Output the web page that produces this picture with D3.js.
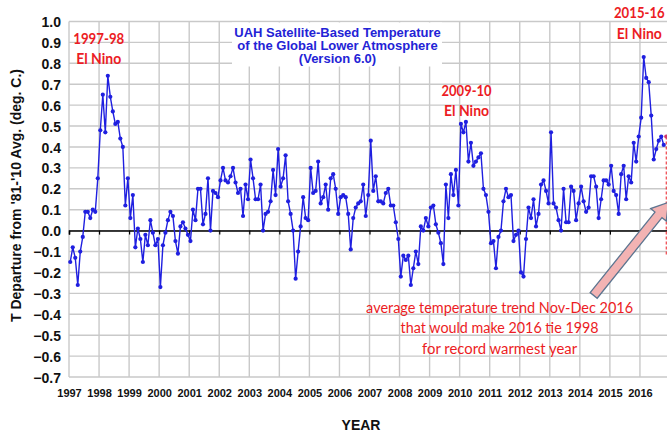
<!DOCTYPE html>
<html><head><meta charset="utf-8">
<script src="https://cdn.jsdelivr.net/npm/d3@7"></script>
<style>
html,body{margin:0;padding:0;background:#fff;}
svg{display:block;}
</style></head>
<body>
<svg id="chart" width="667" height="435"></svg>
<script>
// ---- data: UAH monthly anomalies (deg C), Jan 1997 .. Oct 2016 ----
const startYear = 1997;
const anomalies = [
  // 1997
  -0.15, -0.08, -0.13, -0.26, -0.10, -0.03, 0.09, 0.09, 0.06, 0.10, 0.09, 0.25,
  // 1998
  0.48, 0.65, 0.47, 0.74, 0.64, 0.57, 0.51, 0.52, 0.44, 0.40, 0.12, 0.25,
  // 1999
  0.06, 0.17, -0.08, 0.01, -0.04, -0.15, -0.02, -0.07, 0.05, -0.01, -0.07, -0.04,
  // 2000
  -0.27, -0.07, -0.01, 0.05, 0.09, 0.07, -0.05, -0.11, 0.02, 0.04, 0.01, -0.02,
  // 2001
  -0.05, 0.10, 0.05, 0.20, 0.20, 0.03, 0.08, 0.25, 0.00, 0.19, 0.18, 0.16,
  // 2002
  0.24, 0.30, 0.24, 0.23, 0.26, 0.30, 0.23, 0.18, 0.20, 0.07, 0.22, 0.15,
  // 2003
  0.34, 0.25, 0.15, 0.15, 0.22, 0.00, 0.08, 0.09, 0.14, 0.29, 0.17, 0.39,
  // 2004
  0.21, 0.25, 0.36, 0.14, 0.08, 0.00, -0.23, -0.10, 0.02, 0.16, 0.06, 0.05,
  // 2005
  0.30, 0.18, 0.19, 0.33, 0.13, 0.16, 0.22, 0.10, 0.25, 0.27, 0.20, 0.08,
  // 2006
  0.16, 0.17, 0.16, 0.08, -0.09, 0.06, 0.11, 0.13, 0.14, 0.22, 0.07, 0.17,
  // 2007
  0.43, 0.19, 0.26, 0.14, 0.14, 0.13, 0.18, 0.20, 0.12, 0.12, 0.04, -0.04,
  // 2008
  -0.22, -0.12, -0.14, -0.12, -0.26, -0.18, -0.10, -0.16, 0.02, 0.00, 0.06, 0.02,
  // 2009
  0.11, 0.12, 0.03, -0.01, -0.06, -0.16, 0.22, 0.06, 0.27, 0.17, 0.29, 0.12,
  // 2010
  0.51, 0.47, 0.52, 0.33, 0.42, 0.31, 0.33, 0.35, 0.37, 0.20, 0.17, 0.09,
  // 2011
  -0.06, -0.05, -0.18, -0.03, 0.00, 0.14, 0.20, 0.16, 0.17, -0.05, -0.02, 0.00,
  // 2012
  -0.20, -0.22, -0.04, 0.11, 0.06, 0.15, 0.02, 0.08, 0.22, 0.24, 0.19, 0.13,
  // 2013
  0.47, 0.13, 0.11, 0.05, 0.00, 0.20, 0.04, 0.04, 0.21, 0.19, 0.05, 0.13,
  // 2014
  0.21, 0.14, 0.09, 0.11, 0.26, 0.26, 0.21, 0.06, 0.15, 0.24, 0.24, 0.22,
  // 2015
  0.31, 0.19, 0.17, 0.08, 0.27, 0.31, 0.15, 0.26, 0.23, 0.42, 0.33, 0.45,
  // 2016
  0.54, 0.83, 0.73, 0.71, 0.55, 0.34, 0.39, 0.43, 0.45, 0.41
];
const yearTicks = d3.range(1997, 2017);     // labelled years
const yearGrid = d3.range(1997, 2018);      // vertical grid lines
const yTicks = d3.range(-7, 11).map(d => d / 10);
const titleLines = ["UAH Satellite-Based Temperature", "of the Global Lower Atmosphere", "(Version 6.0)"];
const elNinoLabels = [
  {lines: ["1997-98", "El Nino"], x: 1997.99, y: [0.893, 0.797]},
  {lines: ["2009-10", "El Nino"], x: 2010.23, y: [0.645, 0.546]},
  {lines: ["2015-16", "El Nino"], x: 2015.98, y: [1.018, 0.915]}
];
const trendNote = ["average temperature trend Nov-Dec 2016", "that would make 2016 tie 1998", "for record warmest year"];
// projected Nov marker (start of the dashed red line)
const projStart = {t: 2016 + 10.5 / 12, v: 0.45};
const projEnd = {t: 2016 + 10.5 / 12, v: -0.12};
const arrowFrom = {t: 2014.46, v: -0.31};
const arrowTo = {t: 2016.95, v: 0.135};

// ---- layout ----
const svg = d3.select("#chart");
const W = 667, H = 435;
const x = d3.scaleLinear().domain([1997, 2017]).range([69, 670]);
const y = d3.scaleLinear().domain([-0.7, 1.0]).range([377, 21.5]);
const gridColor = "#c9c9c9";
const blue = "#1f1fe0";
const red = "#ec1c24";

// grid
const grid = svg.append("g");
grid.selectAll("line.h").data(yTicks).join("line")
  .attr("x1", x(1997)).attr("x2", W)
  .attr("y1", d => y(d)).attr("y2", d => y(d))
  .attr("stroke", gridColor).attr("stroke-width", 1.4);
grid.selectAll("line.v").data(yearGrid).join("line")
  .attr("x1", d => x(d)).attr("x2", d => x(d))
  .attr("y1", y(1.0)).attr("y2", y(-0.7))
  .attr("stroke", gridColor).attr("stroke-width", 1.4);

// title box (white behind title)
svg.append("rect").attr("x", 232).attr("y", 22.5).attr("width", 210).attr("height", 44)
  .attr("fill", "#fff");
svg.append("g").selectAll("text").data(titleLines).join("text")
  .attr("x", 337.5).attr("y", (d, i) => 37.3 + i * 12.7)
  .attr("text-anchor", "middle")
  .attr("font-family", "'Liberation Sans', Arial, sans-serif")
  .attr("font-weight", "bold").attr("font-size", 13)
  .attr("fill", "#2323d6").text(d => d);

// zero axis with ticks
const axisG = svg.append("g").attr("transform", `translate(0,${y(0)})`);
const xAxis = d3.axisBottom(x).tickValues(yearGrid).tickSize(4).tickFormat("");
axisG.call(xAxis);
axisG.select(".domain").attr("stroke", "#000").attr("stroke-width", 1.5);
axisG.selectAll(".tick line").attr("stroke", "#000").attr("stroke-width", 1.2);

// y axis labels
const yAxis = d3.axisLeft(y).tickValues(yTicks).tickSize(0).tickPadding(8).tickFormat(d3.format(".1f"));
const yG = svg.append("g").attr("transform", `translate(${x(1997)},0)`).call(yAxis);
yG.select(".domain").remove();
yG.selectAll("text").attr("font-family", "'Liberation Sans', Arial, sans-serif")
  .attr("font-weight", "bold").attr("font-size", 14).attr("fill", "#111")
  .attr("dy", "0.36em");

// x year labels along the bottom
const xLab = d3.axisBottom(x).tickValues(yearTicks).tickSize(0).tickPadding(0).tickFormat(d3.format("d"));
const xG = svg.append("g").attr("transform", `translate(0,${y(-0.7)})`).call(xLab);
xG.select(".domain").remove();
xG.selectAll("text").attr("font-family", "'Liberation Sans', Arial, sans-serif")
  .attr("font-weight", "bold").attr("font-size", 11).attr("fill", "#111")
  .attr("dy", null).attr("y", 19.5);

// axis titles
svg.append("text").attr("x", 361).attr("y", 430).attr("text-anchor", "middle")
  .attr("font-family", "'Liberation Sans', Arial, sans-serif")
  .attr("font-weight", "bold").attr("font-size", 14).attr("fill", "#111").text("YEAR");
svg.append("text").attr("transform", "translate(20.5,195.5) rotate(-90)")
  .attr("text-anchor", "middle")
  .attr("font-family", "'Liberation Sans', Arial, sans-serif")
  .attr("font-weight", "bold").attr("font-size", 14).attr("fill", "#111")
  .text("T Departure from '81-'10 Avg. (deg. C.)");

// data line
const pts = anomalies.map((v, i) => ({t: startYear + Math.floor(i / 12) + ((i % 12) + 0.5) / 12, v}));
const line = d3.line().x(d => x(d.t)).y(d => y(d.v));
svg.append("path").datum(pts).attr("d", line)
  .attr("fill", "none").attr("stroke", blue).attr("stroke-width", 1.4).attr("stroke-linejoin", "round");
svg.append("g").selectAll("circle").data(pts).join("circle")
  .attr("cx", d => x(d.t)).attr("cy", d => y(d.v)).attr("r", 2.1).attr("fill", blue);

// projection dashed line + marker
svg.append("line").attr("x1", x(projStart.t)).attr("x2", x(projEnd.t))
  .attr("y1", y(projStart.v)).attr("y2", y(projEnd.v))
  .attr("stroke", red).attr("stroke-width", 1).attr("stroke-dasharray", "3,2");
svg.append("circle").attr("cx", x(projStart.t)).attr("cy", y(projStart.v)).attr("r", 2.1).attr("fill", "#d03a6a");

// block arrow
(function () {
  const x0 = x(arrowFrom.t), y0 = y(arrowFrom.v), x1 = x(arrowTo.t), y1 = y(arrowTo.v);
  const L = Math.hypot(x1 - x0, y1 - y0), ux = (x1 - x0) / L, uy = (y1 - y0) / L;
  const nx = -uy, ny = ux;
  const bw = 4.5, hw = 10, hl = 16;
  const P = (a, b) => [x0 + ux * a + nx * b, y0 + uy * a + ny * b];
  const poly = [P(0, bw), P(L - hl, bw), P(L - hl, hw), P(L, 0), P(L - hl, -hw), P(L - hl, -bw), P(0, -bw)];
  svg.append("polygon").attr("points", poly.map(p => p.join(",")).join(" "))
    .attr("fill", "#f3b3b3").attr("stroke", "#5d7590").attr("stroke-width", 1.3);
})();

// El Nino labels
const redFont = "Lato, 'Open Sans', sans-serif";
const elG = svg.append("g");
const lw = {"1997-98": 51, "2009-10": 50, "2015-16": 50.7, "El Nino": 45};
elNinoLabels.forEach(lab => {
  lab.lines.forEach((s, k) => {
    elG.append("text").attr("x", x(lab.x)).attr("y", y(lab.y[k]))
      .attr("text-anchor", "middle").attr("font-family", redFont)
      .attr("font-weight", "bold").attr("font-size", 15).attr("fill", red)
      .attr("textLength", lw[s]).attr("lengthAdjust", "spacingAndGlyphs").text(s);
  });
});
// trend note
const noteW = [267, 198, 155];
svg.append("g").selectAll("text").data(trendNote).join("text")
  .attr("x", x(2011.33)).attr("y", (d, i) => y(-0.395) + i * 20.2)
  .attr("text-anchor", "middle").attr("font-family", redFont)
  .attr("font-size", 15.5).attr("fill", red)
  .attr("textLength", (d, i) => noteW[i]).attr("lengthAdjust", "spacingAndGlyphs")
  .text(d => d);
</script>
</body></html>
